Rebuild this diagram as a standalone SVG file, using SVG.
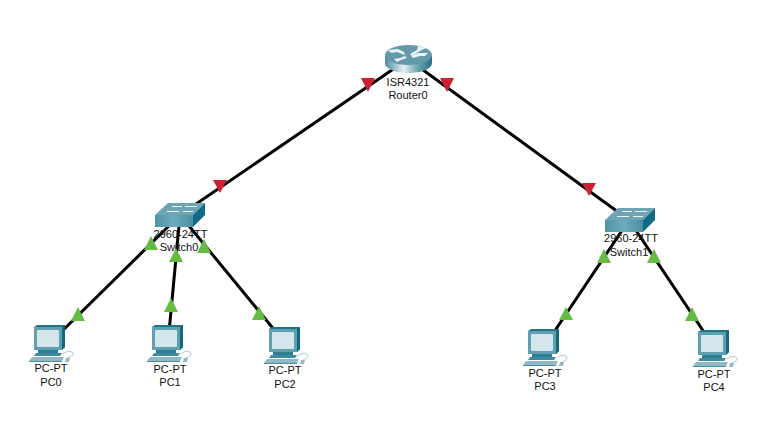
<svg xmlns="http://www.w3.org/2000/svg" width="773" height="427" viewBox="0 0 773 427">
<style>
text{font-family:"Liberation Sans",Arial,sans-serif;font-size:11px;fill:#111;text-anchor:middle}
.l{stroke:#000;stroke-width:3;fill:none}
.r{fill:#cf1f33}
.g{fill:#66bb44}
</style>
<defs>
<linearGradient id="rs" x1="0" x2="1" y1="0" y2="0"><stop offset="0" stop-color="#4f8c9e"/><stop offset=".4" stop-color="#e2f0f3"/><stop offset=".7" stop-color="#6aa3b3"/><stop offset="1" stop-color="#2a7085"/></linearGradient>
<linearGradient id="sf" x1="0" x2="1" y1="0" y2="0"><stop offset="0" stop-color="#4f93a9"/><stop offset=".5" stop-color="#6fabbd"/><stop offset="1" stop-color="#4a8ea4"/></linearGradient>
<symbol id="pc" width="46" height="38" viewBox="0 0 46 38" overflow="visible">
<path d="M5 2 L8 0 H36 V22 L33 25 H5Z" fill="#1f7489"/>
<path d="M5 2 H33 V25 H5Z" fill="#5f9fb0"/>
<path d="M33 2 L36 0 V22 L33 25Z" fill="#0f6a80"/>
<rect x="8" y="5" width="22" height="17" rx="1" fill="#d4e5ec"/>
<path d="M9 25 H29 V28 H9Z" fill="#2f7f94"/>
<path d="M7 28 H33 L31 31 H5Z" fill="#3f8a9e"/>
<path d="M3 32 H35 L33 36 H0Z" fill="#8fb9c6"/>
<path d="M0 36 H33 V37 H0Z" fill="#4f8c9e"/>
<path d="M37 33 H41 L40 37 H36Z" fill="#8fb9c6"/>
<path d="M34 29 C38 25 44 26 44 29 C44 31 41 32 39 33" fill="none" stroke="#a9c9d3"/>
</symbol>
<symbol id="sw" width="50" height="25" viewBox="0 0 50 25" overflow="visible">
<path d="M13 0 H50 L38 12 H0Z" fill="#6fa4b5"/>
<path d="M0 12 H38 V24 H0Z" fill="url(#sf)"/>
<path d="M38 12 L50 0 V12 L38 24Z" fill="#0f6a84"/>
<g stroke="#eef6f8" stroke-width="1.200"><path d="M17 3.500 H27 M30 3.500 H42 M12 8.500 H24 M28 8.500 H38"/></g>
</symbol>
</defs>
<rect width="773" height="427" fill="#fff"/>
<g id="connectors">
<path class="l" d="M408 59 L180 215"/>
<path class="l" d="M408 59 L629 220"/>
<path class="l" d="M180 215 L50 343"/>
<path class="l" d="M180 215 L168 343"/>
<path class="l" d="M180 215 L285 343"/>
<path class="l" d="M629 220 L542 350"/>
<path class="l" d="M629 220 L716 350"/>
</g>
<g id="router0">
<path d="M385 56 V63 C385 69 396 73 408.500 73 C421 73 432 69 432 63 V56Z" fill="url(#rs)"/>
<ellipse cx="408.500" cy="55" rx="23.500" ry="10" fill="#6499ab"/>
<g fill="#e8f3f6"><path d="M388 50 L398 49 L404 52 L405 55 L397 52 L391 53Z"/><path d="M426 48 L418 46 L417 50 L410 54 L412 56 L420 51Z"/><path d="M397 62 L394 59 L400 58 L405 56 L407 58 L401 60Z"/><path d="M425 56 L428 53 L418 53 L411 56 L413 58 L420 56Z"/></g>
<text x="408" y="86">ISR4321</text><text x="408" y="99">Router0</text>
</g>
<g id="switch0"><use href="#sw" x="155" y="203"/><text x="180.500" y="238">2960-24TT</text><text x="179" y="251">Switch0</text></g>
<g id="switch1"><use href="#sw" x="605" y="208"/><text x="631" y="242">2960-24TT</text><text x="629" y="256">Switch1</text></g>
<g id="pc0"><use href="#pc" x="29" y="325"/><text x="51" y="372">PC-PT</text><text x="51" y="386">PC0</text></g>
<g id="pc1"><use href="#pc" x="147" y="325"/><text x="170" y="373">PC-PT</text><text x="170" y="386">PC1</text></g>
<g id="pc2"><use href="#pc" x="264" y="327"/><text x="285" y="374">PC-PT</text><text x="285" y="388">PC2</text></g>
<g id="pc3"><use href="#pc" x="523" y="329"/><text x="545" y="377">PC-PT</text><text x="545" y="390">PC3</text></g>
<g id="pc4"><use href="#pc" x="693" y="330"/><text x="714" y="378">PC-PT</text><text x="714" y="391">PC4</text></g>
<g id="link-lights">
<path class="r" d="M361 78 H375 L368 92Z"/>
<path class="r" d="M440 78 H454 L447 92Z"/>
<path class="r" d="M213 180 H227 L220 193Z"/>
<path class="r" d="M582 183 H596 L589 196Z"/>
<path class="g" d="M144 250 H158 L151 236Z"/>
<path class="g" d="M169 262 H183 L176 248Z"/>
<path class="g" d="M197 253 H211 L204 239Z"/>
<path class="g" d="M71 321 H85 L78 307Z"/>
<path class="g" d="M164 312 H178 L171 298Z"/>
<path class="g" d="M252 320 H266 L259 306Z"/>
<path class="g" d="M597 263 H611 L604 249Z"/>
<path class="g" d="M647 263 H661 L654 249Z"/>
<path class="g" d="M559 320 H573 L566 307Z"/>
<path class="g" d="M685 321 H699 L692 307Z"/>
</g>
</svg>
